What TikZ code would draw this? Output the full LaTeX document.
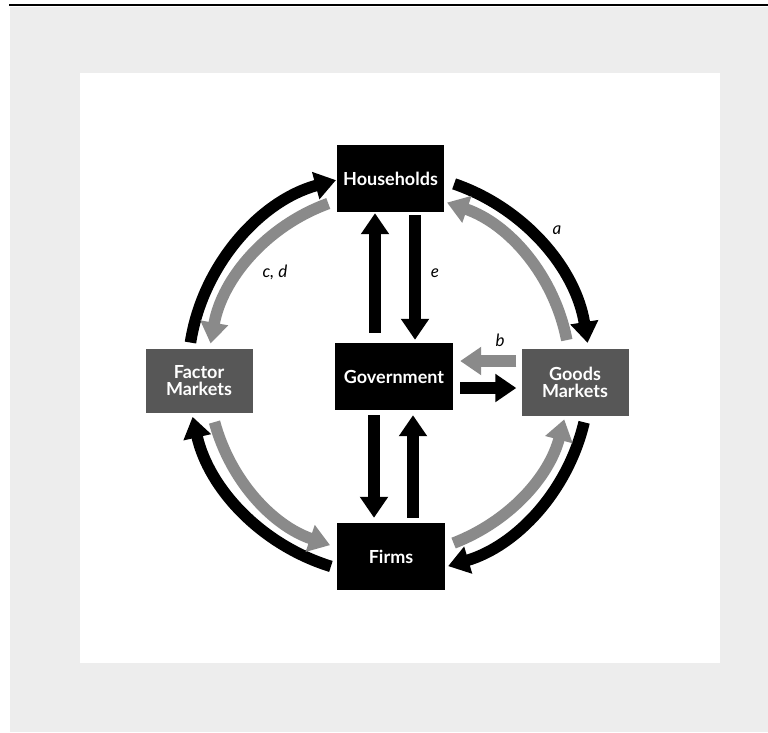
\documentclass[tikz,border=0pt]{standalone}
\usepackage{fontspec}
\setmainfont{Lato}
\usetikzlibrary{arrows.meta,calc}
\definecolor{panelgray}{HTML}{EDEDED}
\definecolor{marketgray}{HTML}{575757}
\definecolor{flowgray}{HTML}{8A8A8A}
\begin{document}
\begin{tikzpicture}[x=1pt,y=1pt,
    sector_style/.style={rectangle,fill=black,text=white,align=center,inner sep=0pt,
        font=\fontsize{18}{17}\selectfont\bfseries,minimum width=107pt,minimum height=67pt},
    market_style/.style={sector_style,fill=marketgray},
    real_flow/.style={draw=black,line width=11.5pt,-{Triangle[length=21pt,width=27pt]}},
    money_flow/.style={real_flow,color=flowgray},
    label_style/.style={font=\fontsize{17}{17}\selectfont\itshape}]
    \useasboundingbox (0,0) rectangle (768,-732);
    % page and panel
    \fill[panelgray] (10,-7) rectangle (768,-732);
    \draw[line width=2.5pt] (9,-5) -- (768,-5);
    \fill[white] (80,-73) rectangle (720,-663);
    % sectors and markets
    \node[sector_style] (hh) at (390.5,-178.5) {Households};
    \node[market_style,minimum height=64pt] (fm) at (199,-381) {Factor\\Markets};
    \node[market_style] (gm) at (575,-382.5) {Goods\\Markets};
    \node[sector_style,minimum width=118pt] (gov) at (394,-376.5) {Government};
    \node[sector_style,minimum width=108pt] (firms) at (391,-556.5) {Firms};
    % points on the circular flows
    \coordinate (ctr) at (389,-374);
    \coordinate (o1) at ($(ctr)+(171:201)$);
    \coordinate (o2) at ($(ctr)+(105.3:201)$);
    \coordinate (o3) at ($(ctr)+(71.1:201)$);
    \coordinate (o4) at ($(ctr)+(8.9:201)$);
    \coordinate (o5) at ($(ctr)+(-13.9:201)$);
    \coordinate (o6) at ($(ctr)+(-72.9:201)$);
    \coordinate (o7) at ($(ctr)+(253.2:201)$);
    \coordinate (o8) at ($(ctr)+(192.3:201)$);
    \coordinate (g1) at ($(ctr)+(10.8:181)$);
    \coordinate (g2) at ($(ctr)+(71.3:181)$);
    \coordinate (g3) at ($(ctr)+(109.6:181)$);
    \coordinate (g4) at ($(ctr)+(170.3:181)$);
    \coordinate (g5) at ($(ctr)+(195.4:181)$);
    \coordinate (g6) at ($(ctr)+(251:181)$);
    \coordinate (g7) at ($(ctr)+(290.9:181)$);
    \coordinate (g8) at ($(ctr)+(345.5:181)$);
    % outer flows
    \draw[real_flow] (o1) to[bend left=33,looseness=0.92] (o2);
    \draw[real_flow] (o3) to[bend left=31,looseness=0.92] (o4);
    \draw[real_flow] (o5) to[bend left=30,looseness=0.92] (o6);
    \draw[real_flow] (o7) to[bend left=30,looseness=0.92] (o8);
    % inner flows
    \draw[money_flow] (g1) to[bend right=30,looseness=0.92] (g2);
    \draw[money_flow] (g3) to[bend right=30,looseness=0.92] (g4);
    \draw[money_flow] (g5) to[bend right=28,looseness=0.92] (g6);
    \draw[money_flow] (g7) to[bend right=27,looseness=0.92] (g8);
    % government flows
    \draw[real_flow,shorten <=10pt,shorten >=1pt] ([xshift=-19pt]gov.north) -- ([xshift=-19pt]gov.north |- hh.south);
    \draw[real_flow,shorten <=3pt,shorten >=3pt] ([xshift=21pt]gov.north |- hh.south) -- ([xshift=21pt]gov.north);
    \draw[real_flow,shorten <=5pt,shorten >=5pt] ([xshift=-20pt]gov.south) -- ([xshift=-20pt]gov.south |- firms.north);
    \draw[real_flow,shorten <=5pt,shorten >=5pt] ([xshift=19pt]gov.south |- firms.north) -- ([xshift=19pt]gov.south);
    \draw[money_flow,shorten <=5pt,shorten >=7pt] ([yshift=21.5pt]gm.west) -- ([yshift=21.5pt]gm.west -| gov.east);
    \draw[real_flow,shorten <=7pt,shorten >=5pt] ([yshift=-5.5pt]gm.west -| gov.east) -- ([yshift=-5.5pt]gm.west);
    % labels
    \node[label_style] (lab_a) at (557,-230) {a};
    \node[label_style] (lab_b) at (500,-340) {b};
    \node[label_style] (lab_cd) at (275,-272) {c, d};
    \node[label_style] (lab_e) at (435,-273) {e};
\end{tikzpicture}
\end{document}
